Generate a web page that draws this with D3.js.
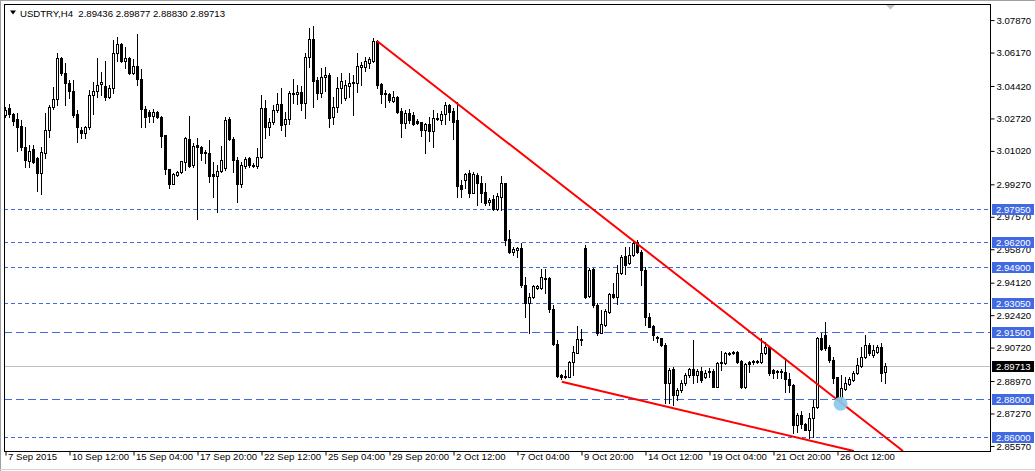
<!DOCTYPE html>
<html><head><meta charset="utf-8">
<script src="https://cdnjs.cloudflare.com/ajax/libs/d3/7.8.5/d3.min.js"></script>
<style>body{margin:0;background:#fff}svg{display:block}text{font-family:"Liberation Sans",Arial,sans-serif}</style>
</head><body>
<svg id="c" width="1035" height="471"></svg>
<script>
// ---- DATA (USDTRY, H4) ----
const opens=[3.0285,3.0322,3.0292,3.0266,3.0229,3.0118,3.0048,3.0109,3.0060,2.9982,3.0086,3.0209,3.0327,3.0369,3.0584,3.0505,3.0456,3.0413,3.0292,3.0209,3.0191,3.0222,3.0390,3.0414,3.0448,3.0439,3.0383,3.0427,3.0610,3.0659,3.0571,3.0584,3.0509,3.0544,3.0474,3.0318,3.0301,3.0283,3.0305,3.0275,3.0182,3.0003,2.9926,2.9971,2.9989,3.0043,3.0161,3.0025,3.0130,3.0118,3.0093,3.0090,2.9976,2.9969,2.9994,3.0008,3.0264,3.0160,3.0051,2.9924,3.0022,3.0064,3.0027,3.0022,3.0069,3.0322,3.0223,3.0252,3.0313,3.0345,3.0238,3.0265,3.0404,3.0397,3.0409,3.0348,3.0589,3.0683,3.0470,3.0404,3.0484,3.0497,3.0278,3.0327,3.0427,3.0375,3.0441,3.0453,3.0456,3.0540,3.0540,3.0561,3.0572,3.0675,3.0449,3.0404,3.0397,3.0362,3.0383,3.0310,3.0244,3.0296,3.0287,3.0256,3.0249,3.0209,3.0238,3.0205,3.0266,3.0261,3.0291,3.0340,3.0310,3.0261,2.9921,2.9947,2.9982,2.9881,2.9973,2.9933,2.9886,2.9830,2.9846,2.9793,2.9860,2.9929,2.9636,2.9569,2.9580,2.9589,2.9397,2.9305,2.9333,2.9380,2.9380,2.9436,2.9432,2.9270,2.9088,2.8926,2.8914,2.8917,2.8996,2.9043,2.9109,2.9593,2.9340,2.9481,2.9293,2.9148,2.9188,2.9258,2.9348,2.9336,2.9458,2.9549,2.9511,2.9554,2.9624,2.9572,2.9476,2.9231,2.9183,2.9127,2.9118,2.9083,2.8886,2.8956,2.8821,2.8847,2.8882,2.8926,2.8957,2.8926,2.8949,2.8914,2.8947,2.8947,2.8865,2.8987,2.8991,2.9036,2.9039,2.9048,2.8999,2.8861,2.8996,2.8999,2.9001,2.8996,2.9039,2.9074,2.8952,2.8943,2.8949,2.8943,2.8903,2.8874,2.8664,2.8717,2.8670,2.8638,2.8699,2.8760,2.9118,2.9135,2.9074,2.9004,2.8914,2.8809,2.8851,2.8879,2.8900,2.8935,2.8973,2.9022,2.9083,2.9031,2.9048,2.9071,2.89436];
const highs=[3.0327,3.0345,3.0299,3.0296,3.0261,3.0226,3.0130,3.0130,3.0069,3.0118,3.0296,3.0339,3.0435,3.0610,3.0592,3.0561,3.0470,3.0470,3.0313,3.0226,3.0231,3.0418,3.0462,3.0584,3.0510,3.0570,3.0444,3.0680,3.0697,3.0666,3.0645,3.0592,3.0578,3.0711,3.0526,3.0334,3.0313,3.0317,3.0310,3.0282,3.0185,3.0006,2.9985,2.9992,3.0048,3.0170,3.0284,3.0139,3.0165,3.0127,3.0104,3.0156,3.0043,3.0025,3.0125,3.0275,3.0275,3.0174,3.0069,3.0043,3.0069,3.0069,3.0038,3.0113,3.0392,3.0366,3.0270,3.0340,3.0401,3.0427,3.0305,3.0415,3.0474,3.0444,3.0439,3.0614,3.0741,3.0753,3.0488,3.0531,3.0540,3.0505,3.0383,3.0488,3.0505,3.0470,3.0505,3.0497,3.0610,3.0566,3.0593,3.0593,3.0689,3.0680,3.0453,3.0418,3.0404,3.0415,3.0387,3.0322,3.0313,3.0317,3.0305,3.0265,3.0252,3.0244,3.0278,3.0313,3.0299,3.0310,3.0357,3.0345,3.0322,3.0357,2.9947,2.9985,2.9999,2.9991,2.9982,2.9968,2.9929,2.9851,2.9868,2.9877,2.9968,2.9933,2.9685,2.9598,2.9594,2.9615,2.9441,2.9354,2.9397,2.9397,2.9479,2.9479,2.9437,2.9293,2.9109,2.8931,2.8952,2.9001,2.9078,2.9183,2.9165,2.9607,2.9484,2.9484,2.9301,2.9266,2.9270,2.9354,2.9409,2.9502,2.9554,2.9594,2.9598,2.9629,2.9633,2.9581,2.9493,2.9249,2.9188,2.9130,2.9121,2.9092,2.8961,2.8966,2.8856,2.8900,2.8935,2.8961,2.9109,2.8956,2.8970,2.8952,2.8961,2.8959,2.8996,2.9053,2.9048,2.9048,2.9050,2.9051,2.9004,2.8990,2.9001,2.9004,2.9004,2.9118,2.9100,2.9078,2.8956,2.8952,2.8956,2.9013,2.8935,2.8877,2.8725,2.8740,2.8673,2.8725,2.8795,2.9127,2.9144,2.9205,2.9083,2.9022,2.8917,2.8926,2.8917,2.8917,2.8947,2.9013,2.9074,2.9135,2.9092,2.9083,2.9083,2.9092,2.89877];
const lows=[3.0275,3.0275,3.0235,3.0100,3.0104,3.0017,3.0017,3.0038,2.9891,2.9872,3.0060,3.0170,3.0317,3.0339,3.0496,3.0339,3.0374,3.0275,3.0144,3.0165,3.0168,3.0215,3.0290,3.0383,3.0392,3.0366,3.0374,3.0400,3.0571,3.0566,3.0531,3.0500,3.0500,3.0444,3.0222,3.0226,3.0252,3.0252,3.0272,3.0121,2.9976,2.9907,2.9924,2.9969,2.9985,2.9999,3.0017,3.0013,2.9741,3.0051,3.0034,2.9938,2.9860,2.9781,2.9990,2.9999,3.0156,2.9990,2.9830,2.9912,3.0008,3.0017,3.0017,3.0010,3.0060,3.0165,3.0182,3.0240,3.0305,3.0209,3.0177,3.0240,3.0348,3.0345,3.0313,3.0270,3.0540,3.0327,3.0371,3.0383,3.0413,3.0226,3.0240,3.0305,3.0348,3.0366,3.0380,3.0287,3.0409,3.0444,3.0519,3.0531,3.0566,3.0427,3.0348,3.0331,3.0357,3.0357,3.0299,3.0174,3.0217,3.0244,3.0235,3.0240,3.0177,3.0090,3.0153,3.0118,3.0261,3.0240,3.0240,3.0261,3.0160,2.9860,2.9860,2.9903,2.9860,2.9877,2.9816,2.9833,2.9816,2.9816,2.9790,2.9790,2.9790,2.9607,2.9563,2.9554,2.9546,2.9388,2.9231,2.9144,2.9327,2.9376,2.9376,2.9354,2.9258,2.9083,2.8917,2.8903,2.8909,2.8914,2.8926,2.9040,2.9083,2.9327,2.9333,2.9284,2.9136,2.9144,2.9183,2.9252,2.9327,2.9298,2.9455,2.9455,2.9507,2.9549,2.9567,2.9397,2.9188,2.9176,2.9109,2.9101,2.9078,2.8778,2.8778,2.8769,2.8795,2.8839,2.8874,2.8917,2.8882,2.8891,2.8891,2.8908,2.8917,2.8861,2.8861,2.8952,2.8983,2.9031,2.9036,2.8990,2.8856,2.8858,2.8943,2.8983,2.8987,2.8990,2.9036,2.8926,2.8908,2.8908,2.8908,2.8839,2.8839,2.8621,2.8630,2.8648,2.8636,2.8594,2.8603,2.8752,2.9057,2.9057,2.8996,2.8882,2.8795,2.8795,2.8847,2.8874,2.8896,2.8931,2.8970,2.9013,2.9031,2.9022,2.9039,2.8896,2.88830];
const closes=[3.0313,3.0292,3.0257,3.0226,3.0118,3.0051,3.0099,3.0043,2.9982,3.0092,3.0209,3.0327,3.0369,3.0584,3.0505,3.0453,3.0413,3.0287,3.0226,3.0191,3.0222,3.0392,3.0413,3.0444,3.0460,3.0383,3.0427,3.0610,3.0659,3.0571,3.0584,3.0505,3.0544,3.0474,3.0317,3.0278,3.0283,3.0305,3.0275,3.0179,3.0003,2.9926,2.9976,2.9989,3.0046,3.0165,3.0020,3.0127,3.0118,3.0086,3.0086,2.9969,2.9969,2.9994,3.0051,3.0261,3.0160,3.0051,2.9924,3.0025,3.0057,3.0023,3.0022,3.0070,3.0322,3.0223,3.0252,3.0313,3.0345,3.0235,3.0266,3.0401,3.0395,3.0408,3.0352,3.0589,3.0683,3.0467,3.0404,3.0484,3.0497,3.0273,3.0327,3.0427,3.0465,3.0442,3.0456,3.0462,3.0544,3.0547,3.0570,3.0580,3.0675,3.0444,3.0397,3.0397,3.0366,3.0380,3.0305,3.0244,3.0296,3.0261,3.0240,3.0247,3.0209,3.0240,3.0205,3.0273,3.0273,3.0292,3.0340,3.0305,3.0252,2.9917,2.9898,2.9978,2.9881,2.9978,2.9933,2.9881,2.9825,2.9842,2.9793,2.9863,2.9929,2.9633,2.9572,2.9586,2.9589,2.9397,2.9305,2.9336,2.9392,2.9394,2.9437,2.9430,2.9270,2.9088,2.8921,2.8914,2.8921,2.8996,2.9048,2.9113,2.9113,2.9336,2.9476,2.9293,2.9144,2.9193,2.9263,2.9348,2.9336,2.9458,2.9546,2.9502,2.9554,2.9619,2.9572,2.9476,2.9231,2.9179,2.9136,2.9118,2.9083,2.8886,2.8952,2.8821,2.8847,2.8886,2.8926,2.8957,2.8926,2.8949,2.8900,2.8938,2.8940,2.8865,2.8987,2.8996,2.9039,2.9043,2.9046,2.8996,2.8861,2.8983,2.8983,2.8994,2.8994,2.9039,2.9074,2.8935,2.8935,2.8949,2.8942,2.8903,2.8874,2.8664,2.8717,2.8670,2.8638,2.8699,2.8760,2.9118,2.9060,2.9066,2.9004,2.8909,2.8809,2.8856,2.8882,2.8903,2.8938,2.8978,2.9022,2.9083,2.9039,2.9057,2.9071,2.8935,2.89713];
const timeLabels=["7 Sep 2015","10 Sep 12:00","15 Sep 04:00","17 Sep 20:00","22 Sep 12:00","25 Sep 04:00","29 Sep 20:00","2 Oct 12:00","7 Oct 04:00","9 Oct 20:00","14 Oct 12:00","19 Oct 04:00","21 Oct 20:00","26 Oct 12:00"];
const barsPerLabel=16;
const priceTicks=[3.0787,3.0617,3.0442,3.0272,3.0102,2.9927,2.9757,2.9587,2.9412,2.9242,2.9072,2.8897,2.8727,2.8557];
const levels=[2.9795,2.9620,2.9490,2.9305,2.9150,2.8800,2.8600];
const currentPrice=2.89713;
const symbol="USDTRY,H4";
const upperTrend=[[93,3.0675],[224.5,2.8528]];
const lowerTrend=[[139.2,2.8891],[212.2,2.8528]];
const markPoint=[208.9,2.8775];
const priceMin=2.8528, priceMax=3.0867;

// ---- DRAW ----
const svg=d3.select("#c");
const L=4, T=4, R=990, B=451;
const x=d3.scaleLinear().domain([0,1]).range([5,9]);
const y=d3.scaleLinear().domain([priceMin,priceMax]).range([B,T+0.3]);

// window borders
svg.append("line").attr("x1",0).attr("x2",1035).attr("y1",0.5).attr("y2",0.5).attr("stroke","#a0a0a0");
svg.append("line").attr("x1",0.5).attr("x2",0.5).attr("y1",0).attr("y2",471).attr("stroke","#a0a0a0");
svg.append("line").attr("x1",0).attr("x2",1035).attr("y1",469.5).attr("y2",469.5).attr("stroke","#d4d4d4");

svg.append("defs").append("clipPath").attr("id","clip").append("rect")
  .attr("x",L+1).attr("y",T+1).attr("width",R-L-1).attr("height",B-T-1);
const plot=svg.append("g").attr("clip-path","url(#clip)");

// current price line
plot.append("line").attr("x1",L).attr("x2",R).attr("y1",Math.round(y(currentPrice))+0.5).attr("y2",Math.round(y(currentPrice))+0.5)
  .attr("stroke","#c0c0c0");

// horizontal levels
const longDash=new Set([2.9150,2.8800]);
levels.forEach(p=>{
  const yy=Math.round(y(p))+0.5;
  plot.append("line").attr("x1",L).attr("x2",R).attr("y1",yy).attr("y2",yy)
    .attr("stroke","#3f6ae4").attr("stroke-width",1)
    .attr("stroke-dasharray",longDash.has(p)?"8,4":"4,3");
});

// candles
const candles=plot.append("g");
opens.forEach((o,i)=>{
  const c=closes[i], h=highs[i], l=lows[i];
  const cx=Math.round(x(i));
  const yh=Math.round(y(h)), yl=Math.round(y(l));
  const top=Math.round(y(Math.max(o,c))), bot=Math.round(y(Math.min(o,c)));
  candles.append("line").attr("x1",cx+0.5).attr("x2",cx+0.5).attr("y1",yh).attr("y2",yl+1)
    .attr("stroke","#000").attr("stroke-width",1);
  if(c>=o){
    candles.append("rect").attr("x",cx-0.5).attr("y",top+0.5).attr("width",2).attr("height",Math.max(bot-top,0))
      .attr("fill","#fff").attr("stroke","#000").attr("stroke-width",1);
  } else {
    candles.append("rect").attr("x",cx-1).attr("y",top).attr("width",3).attr("height",Math.max(bot-top,0)+1)
      .attr("fill","#000");
  }
});

// trend lines
[upperTrend,lowerTrend].forEach(tl=>{
  plot.append("line").attr("x1",x(tl[0][0])).attr("y1",y(tl[0][1])).attr("x2",x(tl[1][0])).attr("y2",y(tl[1][1]))
    .attr("stroke","#ff0000").attr("stroke-width",2);
});
// marker
plot.append("circle").attr("cx",x(markPoint[0])).attr("cy",y(markPoint[1])).attr("r",7)
  .attr("fill","#87c8ec").attr("opacity",0.9);

// frame
svg.append("rect").attr("x",L+0.5).attr("y",T+0.5).attr("width",R-L).attr("height",B-T)
  .attr("fill","none").attr("stroke","#000");

// chart shift marker
svg.append("path").attr("d","M886,5 L895,5 L890.5,9.5 Z").attr("fill","#c4c4c4");

// header
svg.append("path").attr("d","M10,10.5 L16,10.5 L13,14.5 Z").attr("fill","#000");
svg.append("text").attr("x",20).attr("y",16.5).attr("font-size","9.6px").attr("fill","#000")
  .attr("xml:space","preserve")
  .text(symbol+"  "+[opens[opens.length-1],highs[highs.length-1],lows[lows.length-1],closes[closes.length-1]].map(d3.format(".5f")).join(" "));

// price axis
const yAxis=d3.axisRight(y).tickValues(priceTicks).tickSize(4).tickSizeOuter(0).tickPadding(2).tickFormat(d3.format(".5f"));
const ya=svg.append("g").attr("transform",`translate(${R+0.5},0.5)`).call(yAxis);
ya.select(".domain").remove();
ya.selectAll("text").attr("font-size","9.6px").attr("fill","#000").attr("font-family","Liberation Sans, Arial, sans-serif");
ya.selectAll("line").attr("stroke","#000");

// level price labels
function tag(p,bg){
  const yy=Math.round(y(p));
  const g=svg.append("g");
  g.append("rect").attr("x",R+2).attr("y",yy-5).attr("width",42).attr("height",11).attr("fill",bg);
  g.append("text").attr("x",R+6).attr("y",yy+3.5).attr("font-size","9.6px").attr("fill","#fff").text(d3.format(".5f")(p));
}
levels.forEach(p=>tag(p,"#4169e1"));
tag(currentPrice,"#000");

// time axis
const tickBars=timeLabels.map((_,k)=>k*barsPerLabel);
const xAxis=d3.axisBottom(x).tickValues(tickBars).tickSize(4).tickSizeOuter(0).tickFormat((d,k)=>timeLabels[k]);
const xa=svg.append("g").attr("transform",`translate(0.5,${B+0.5})`).call(xAxis);
xa.select(".domain").remove();
xa.selectAll("text").attr("font-size","9.6px").attr("fill","#000").attr("text-anchor","start").attr("dx","2px").attr("dy","0.2em")
  .attr("font-family","Liberation Sans, Arial, sans-serif");
xa.selectAll("line").attr("stroke","#000");
</script>
</body></html>
